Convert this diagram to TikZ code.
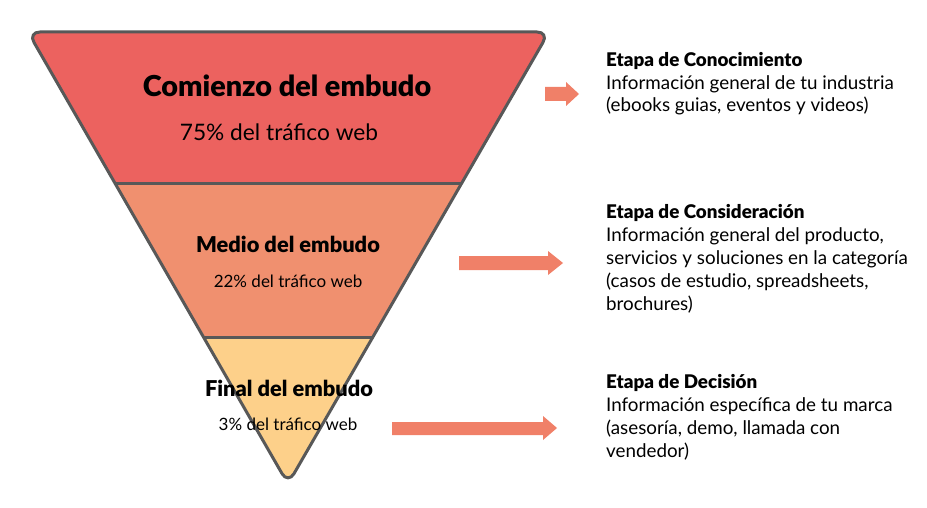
\documentclass[tikz,border=0pt]{standalone}
\usepackage{fontspec}
\setmainfont{Lato}[BoldFont={Lato Black}]
\definecolor{topred}{HTML}{EC625F}
\definecolor{midorange}{HTML}{F0906F}
\definecolor{lowyellow}{HTML}{FDD08A}
\definecolor{edgegray}{HTML}{585858}
\definecolor{arrowsalmon}{HTML}{F08068}
\tikzset{
  bigtitle/.style={font=\fontsize{28.8}{30}\bfseries\selectfont, anchor=base, inner sep=0pt},
  midtitle/.style={font=\fontsize{21.8}{24}\bfseries\selectfont, anchor=base, inner sep=0pt},
  bigsub/.style={font=\fontsize{22.7}{24}\selectfont, anchor=base, inner sep=0pt},
  smallsub/.style={font=\fontsize{17}{18}\selectfont, anchor=base, inner sep=0pt},
  stagetext/.style={font=\fontsize{18.8}{22.8}\selectfont, anchor=base west, align=left, inner sep=0pt},
  blockarrow/.style={fill=arrowsalmon, draw=none},
}
\begin{document}
\begin{tikzpicture}[x=1pt,y=-1pt]
\useasboundingbox (0,0) rectangle (927,508);
\begin{scope}
  \clip[rounded corners=12] (288,484) -- (28,32) -- (549,32) -- cycle;
  \fill[topred] (0,0) rectangle (927,184);
  \fill[midorange] (0,184) rectangle (927,337);
  \fill[lowyellow] (0,337) rectangle (927,508);
  \draw[edgegray, line width=3] (0,184) -- (927,184);
  \draw[edgegray, line width=3] (0,337) -- (927,337);
\end{scope}
\draw[edgegray, line width=3, rounded corners=12, line join=round] (288,484) -- (28,32) -- (549,32) -- cycle;
% funnel texts
\node[bigtitle] (t1) at (287,97) {Comienzo del embudo};
\node[bigsub] (s1) at (279,141) {75\% del tráfico web};
\node[midtitle] (t2) at (288,252) {Medio del embudo};
\node[smallsub] (s2) at (288,287) {22\% del tráfico web};
\node[midtitle] (t3) at (289,396) {Final del embudo};
\node[smallsub] (s3) at (288,430) {3\% del tráfico web};
% arrows
\fill[blockarrow] (545,87) -- (566,87) -- (566,82) -- (579,94) -- (566,106) -- (566,101) -- (545,101) -- cycle;
\fill[blockarrow] (459,256) -- (548,256) -- (548,251) -- (563,263) -- (548,275) -- (548,270) -- (459,270) -- cycle;
\fill[blockarrow] (392,422) -- (543,422) -- (543,416) -- (557,428) -- (543,440) -- (543,435) -- (392,435) -- cycle;
% stage texts (base = last line)
\node[stagetext] (e1) at (606,112) {\textbf{Etapa de Conocimiento}\\Información general de tu industria\\(ebooks guias, eventos y videos)};
\node[stagetext] (e2) at (606,310) {\textbf{Etapa de Consideración}\\Información general del producto,\\servicios y soluciones en la categoría\\(casos de estudio, spreadsheets,\\brochures)};
\node[stagetext] (e3) at (606,457) {\textbf{Etapa de Decisión}\\Información específica de tu marca\\(asesoría, demo, llamada con\\vendedor)};
\end{tikzpicture}
\end{document}
